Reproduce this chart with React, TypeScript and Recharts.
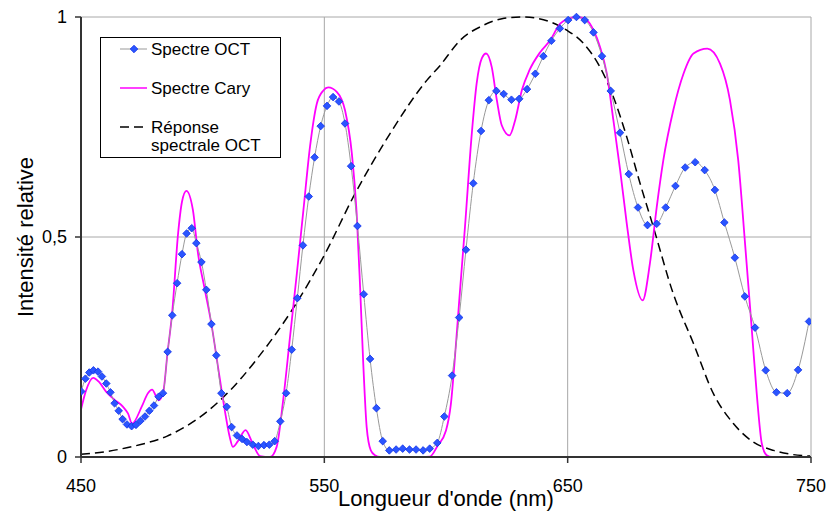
import { LineChart, Line, XAxis, YAxis, CartesianGrid, Label } from "recharts";

// Spectre OCT (nm, intensité)
const octWavelengths = [
  450.1, 451.8, 453.4, 455.1, 457.0, 458.6, 460.4, 462.1, 463.8, 465.5, 467.1, 468.9, 470.8, 472.6, 474.4,
  476.3, 478.1, 480.0, 481.9, 483.7, 485.6, 487.5, 489.5, 491.5, 493.4, 495.5, 497.4, 499.5, 501.5, 503.6,
  505.6, 507.7, 509.9, 511.9, 514.1, 516.2, 518.2, 520.6, 522.9, 525.2, 527.4, 529.6, 531.9, 534.3, 536.6,
  538.9, 541.2, 543.6, 546.0, 548.5, 551.1, 553.6, 556.0, 558.5, 561.0, 563.6, 566.2, 568.8, 571.4, 574.0,
  576.7, 579.5, 582.2, 585.0, 587.7, 590.6, 593.3, 596.4, 599.3, 602.5, 605.4, 608.2, 611.2, 614.4, 617.6,
  620.7, 623.7, 626.9, 630.1, 633.3, 636.7, 640.0, 643.3, 646.8, 650.2, 653.6, 657.0, 660.6, 664.1, 667.7,
  671.5, 675.1, 678.9, 682.8, 686.6, 690.3, 694.3, 698.3, 702.4, 706.3, 710.5, 714.4, 718.7, 722.8, 727.0,
  731.4, 735.8, 740.2, 744.7, 749.2,
];
const octIntensity = [
  0.149, 0.178, 0.192, 0.197, 0.194, 0.183, 0.167, 0.147, 0.122, 0.105, 0.086, 0.074, 0.07, 0.073, 0.082,
  0.092, 0.105, 0.117, 0.137, 0.145, 0.239, 0.322, 0.395, 0.461, 0.508, 0.52, 0.486, 0.443, 0.38, 0.302,
  0.231, 0.145, 0.114, 0.068, 0.049, 0.041, 0.034, 0.028, 0.025, 0.027, 0.028, 0.036, 0.081, 0.145, 0.244,
  0.361, 0.481, 0.592, 0.681, 0.752, 0.798, 0.818, 0.808, 0.758, 0.661, 0.525, 0.37, 0.223, 0.111, 0.036,
  0.015, 0.017, 0.019, 0.017, 0.017, 0.015, 0.019, 0.032, 0.092, 0.185, 0.317, 0.471, 0.622, 0.741, 0.811,
  0.832, 0.825, 0.812, 0.814, 0.836, 0.871, 0.911, 0.946, 0.974, 0.993, 1.0, 0.993, 0.965, 0.911, 0.832,
  0.737, 0.643, 0.567, 0.527, 0.53, 0.567, 0.616, 0.658, 0.67, 0.652, 0.607, 0.533, 0.453, 0.365, 0.294,
  0.197, 0.147, 0.145, 0.198, 0.308,
];

// Spectre Cary
const caryWavelengths = [
  450, 452, 455, 457.5, 460.4, 463.8, 467.3, 469.3, 471, 475, 477.5, 479.2, 481.9, 483.7, 485.6, 487.5,
  489.9, 491.5, 493.3, 496, 498.1, 500.8, 503.6, 506.3, 509.1, 511.1, 512.4, 514.5, 517.6, 520.8, 523.6,
  527.7, 530.4, 533.1, 535.9, 538.7, 541.4, 544.1, 546.9, 549.6, 551.6, 555.1, 558.5, 561.3, 563.3, 564.7,
  566, 567.4, 569.1, 570.8, 573, 590, 593.4, 596.5, 600, 602, 604, 605.5, 607.8, 610.6, 612.6, 614.7, 616.5,
  618.8, 620.9, 622.9, 626.1, 628.4, 631.2, 634.3, 638.7, 642.8, 646.9, 650.3, 653.7, 657.8, 660.6, 663.3,
  666.1, 668.8, 671.5, 674.3, 677, 680.8, 683.8, 686.6, 689.3, 693.4, 697.6, 701.7, 707.4, 712.6, 716.7,
  720.1, 722.9, 725.6, 727.7, 729.8, 731.8, 734, 750,
];
const caryIntensity = [
  0.108, 0.15, 0.18, 0.17, 0.148, 0.13, 0.114, 0.099, 0.076, 0.115, 0.145, 0.153, 0.129, 0.145, 0.239, 0.33,
  0.508, 0.58, 0.605, 0.561, 0.462, 0.383, 0.302, 0.205, 0.106, 0.046, 0.023, 0.036, 0.061, 0.027, 0.002,
  0, 0.023, 0.13, 0.273, 0.417, 0.561, 0.705, 0.803, 0.833, 0.84, 0.83, 0.788, 0.69, 0.553, 0.386,
  0.212, 0.068, 0.015, 0.004, 0, 0, 0.001, 0.025, 0.06, 0.12, 0.25, 0.36, 0.523, 0.735, 0.849, 0.906, 0.917,
  0.886, 0.811, 0.754, 0.731, 0.765, 0.834, 0.879, 0.92, 0.947, 0.985, 0.996, 1.0, 0.993, 0.97, 0.932,
  0.871, 0.765, 0.655, 0.53, 0.424, 0.356, 0.44, 0.568, 0.674, 0.788, 0.871, 0.917, 0.928, 0.894, 0.811,
  0.674, 0.485, 0.295, 0.144, 0.03, 0.004, 0, 0,
];

// Réponse spectrale OCT
const responseWavelengths = [
  450, 460, 468.8, 477, 485.2, 492, 499, 507, 516, 522.9, 529.7, 536.6, 543.4, 550.3, 561.9, 577, 592.1,
  597.6, 605.8, 615.3, 623, 631.8, 642.8, 649.6, 656.5, 663.3, 668.8, 674.3, 679.8, 685.2, 693.4, 701.7,
  709.9, 718.1, 726.3, 734.6, 742, 749.6,
];
const responseIntensity = [
  0.006, 0.012, 0.021, 0.032, 0.047, 0.066, 0.091, 0.128, 0.18, 0.227, 0.277, 0.333, 0.394, 0.462, 0.591,
  0.735, 0.856, 0.89, 0.947, 0.981, 0.996, 1.0, 0.989, 0.97, 0.94, 0.886, 0.818, 0.727, 0.621, 0.523, 0.371,
  0.258, 0.144, 0.076, 0.034, 0.015, 0.006, 0.002,
];

const xTicks = [450, 550, 650, 750];
const yTicks = [0, 0.5, 1];

const toPoints = (xs: number[], ys: number[]) => xs.map((x, i) => ({ x, y: ys[i] }));
const octData = toPoints(octWavelengths, octIntensity);
const caryData = toPoints(caryWavelengths, caryIntensity);
const responseData = toPoints(responseWavelengths, responseIntensity);

const FONT = "'Liberation Sans', Arial, sans-serif";
const BLUE_FILL = "#2a55ff";
const BLUE_STROKE = "#1030e8";

function diamondPath(cx: number, cy: number, r: number) {
  return `M${cx},${cy - r}L${cx + r},${cy}L${cx},${cy + r}L${cx - r},${cy}Z`;
}

const Diamond = (props: any) => {
  const { cx, cy, index } = props;
  if (cx == null || cy == null) return null;
  return <path key={index} d={diamondPath(cx, cy, 3.8)} fill={BLUE_FILL} stroke={BLUE_STROKE} strokeWidth={0.8} />;
};

const fmtY = (v: number) => String(v).replace(".", ",");

function ChartLegend() {
  return (
    <svg style={{ position: "absolute", left: 100, top: 37 }} width={182} height={122}>
      <rect x={0.5} y={0.5} width={180} height={120} fill="#fff" stroke="#000" strokeWidth={1} />
      <line x1={20} y1={12} x2={47} y2={12} stroke="#999" strokeWidth={1} />
      <path d={diamondPath(34, 12, 3.8)} fill={BLUE_FILL} stroke={BLUE_STROKE} strokeWidth={0.8} />
      <text x={51} y={18} fontSize={17} fontFamily={FONT} fill="#000">Spectre OCT</text>
      <line x1={20} y1={51} x2={47} y2={51} stroke="#ff00ff" strokeWidth={1.5} />
      <text x={51} y={57} fontSize={17} fontFamily={FONT} fill="#000">Spectre Cary</text>
      <line x1={20} y1={90} x2={47} y2={90} stroke="#000" strokeWidth={1.5} strokeDasharray="9 5" />
      <text x={51} y={96} fontSize={17} fontFamily={FONT} fill="#000">Réponse</text>
      <text x={51} y={114} fontSize={17} fontFamily={FONT} fill="#000">spectrale OCT</text>
    </svg>
  );
}

export default function App() {
  return (
    <div style={{ position: "absolute", left: 0, top: 0, width: 829, height: 512, background: "#fff", fontFamily: FONT }}>
      <LineChart width={829} height={512} margin={{ top: 17, right: 18, bottom: 0, left: 0 }}>
        <CartesianGrid stroke="#a8a8a8" strokeWidth={1} />
        <XAxis
          type="number"
          dataKey="x"
          domain={[450, 750]}
          ticks={xTicks}
          allowDataOverflow
          height={55}
          tickSize={6}
          tickMargin={16}
          axisLine={{ stroke: "#333", strokeWidth: 2 }}
          tickLine={{ stroke: "#333", strokeWidth: 1.5 }}
          tick={{ fill: "#000", fontSize: 18, fontFamily: FONT }}
        >
          <Label
            content={() => (
              <text x={446} y={506} textAnchor="middle" fontSize={22} fontFamily={FONT} fill="#000">
                Longueur d'onde (nm)
              </text>
            )}
          />
        </XAxis>
        <YAxis
          type="number"
          dataKey="y"
          domain={[0, 1]}
          ticks={yTicks}
          width={81}
          tickSize={6}
          tickMargin={8}
          tickFormatter={fmtY}
          axisLine={{ stroke: "#333", strokeWidth: 2 }}
          tickLine={{ stroke: "#333", strokeWidth: 1.5 }}
          tick={{ fill: "#000", fontSize: 18, fontFamily: FONT }}
        >
          <Label
            content={() => (
              <text
                x={33}
                y={237}
                transform="rotate(-90 33 237)"
                textAnchor="middle"
                fontSize={22}
                fontFamily={FONT}
                fill="#000"
              >
                Intensité relative
              </text>
            )}
          />
        </YAxis>
        <Line
          data={responseData}
          dataKey="y"
          type="monotone"
          stroke="#000"
          strokeWidth={1.5}
          strokeDasharray="9 5"
          dot={false}
          activeDot={false}
          isAnimationActive={false}
        />
        <Line
          data={caryData}
          dataKey="y"
          type="monotone"
          stroke="#ff00ff"
          strokeWidth={1.8}
          dot={false}
          activeDot={false}
          isAnimationActive={false}
        />
        <Line
          data={octData}
          dataKey="y"
          type="monotone"
          stroke="#999"
          strokeWidth={1}
          dot={(p: any) => <Diamond key={p.index} {...p} />}
          activeDot={false}
          isAnimationActive={false}
        />
      </LineChart>
      <ChartLegend />
    </div>
  );
}
